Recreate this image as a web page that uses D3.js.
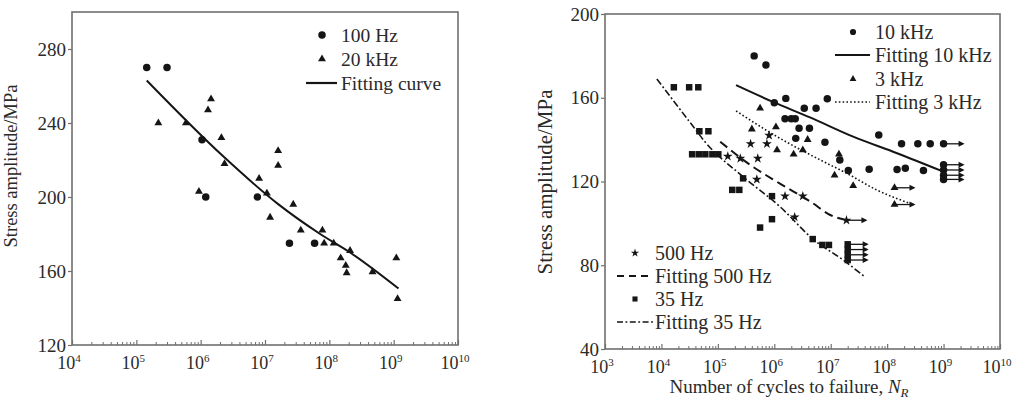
<!DOCTYPE html>
<html><head><meta charset="utf-8">
<script src="https://cdn.jsdelivr.net/npm/d3@7"></script>
<style>body{margin:0;background:#fff}svg{display:block;font-family:"Liberation Serif","Times New Roman",serif}</style>
</head><body><svg id="c" width="1020" height="404"></svg>
<script>
// ---------- data ----------
const leftXExps = [4, 5, 6, 7, 8, 9, 10];
const leftYTicks = [120, 160, 200, 240, 280];
const rightXExps = [3, 4, 5, 6, 7, 8, 9, 10];
const rightYTicks = [40, 80, 120, 160, 200];
const yTitle = "Stress amplitude/MPa";
const xTitle = "Number of cycles to failure, ";

// left panel
const left100Hz = [[1.45e5,270],[3.0e5,270],[1.05e6,231],[1.2e6,200],[7.6e6,200],[2.4e7,175],[5.9e7,175]];
const left20kHz = [[2.2e5,240],[5.9e5,240],[1.3e6,247],[1.45e6,253],[2.1e6,232],[2.35e6,218],[9.4e5,203],
  [8.1e6,210],[1.07e7,202],[1.2e7,189],[1.6e7,225],[1.6e7,217],[2.75e7,196],[3.6e7,182],[7.8e7,182],
  [8.3e7,175],[1.17e8,175],[1.5e8,167],[1.8e8,163],[1.86e8,159],[2.1e8,171],[4.7e8,159.5],[1.1e9,167],[1.15e9,145]];
const leftFit = [[1.45e5,263],[2.24e6,222],[1.62e7,196],[7.2e7,180],[2.1e8,170],[1.19e9,150.5]];
const leftLegend = ["100 Hz", "20 kHz", "Fitting curve"];

// right panel
const r10kHz = [[4.4e5,180],[7.1e5,175.6],[1.0e6,157.6],[1.6e6,159.7],[3.4e6,155],[5.5e6,155],[8.7e6,159.5],
  [1.55e6,150],[2.0e6,150],[2.35e6,150],[2.75e6,145.4],[4.2e6,145.4],[2.4e6,140.6],[7.9e6,138.7],
  [1.45e7,130.3],[2.05e7,125.3],[4.8e7,125.8],[7.1e7,142.2],[1.5e8,125.7],[2.1e8,126.3],[4.4e8,125.2],
  [1.8e8,138],[3.5e8,138],[5.8e8,138]];
const r10kHzRunout = [[1e9,138],[1e9,128],[1e9,125.5],[1e9,123],[1e9,121]];
const r3kHz = [[4.0e5,145],[5.6e5,155],[1.07e6,146],[1.12e6,135],[2.2e6,133],[3.2e6,135],[3.9e6,140],
  [1.17e7,123],[1.4e7,133],[2.5e7,118]];
const r3kHzRunout = [[1.35e8,117],[1.35e8,109]];
const r500Hz = [[1.5e5,132],[2.5e5,131],[3.8e5,138],[5.1e5,131],[7.4e5,138],[8.1e5,142],[4.9e5,121],
  [1.55e6,113],[2.3e6,103],[3.2e6,113]];
const r500HzRunout = [[1.9e7,101.5]];
const r35Hz = [[1.66e4,165],[3.1e4,165],[4.5e4,165],[4.7e4,144],[6.8e4,144],[3.5e4,133],[4.6e4,133],
  [6.0e4,133],[8.0e4,133],[1.02e5,133],[1.8e5,116],[2.4e5,116],[2.8e5,121.5],[9.1e5,113],[9.1e5,102],
  [5.6e5,98],[4.8e6,92.5],[7.1e6,89.7],[9.3e6,89.7]];
const r35HzRunout = [[2.0e7,90],[2.0e7,87.5],[2.0e7,85],[2.0e7,82.5]];
const fit10kHz = [[2.1e5,166],[9.5e5,158],[4.3e6,150.6],[2.5e7,141.4],[1.5e8,133.5],[9.3e8,125]];
const fit3kHz = [[2.1e5,153.7],[8.9e5,143],[6.5e6,130.3],[1.9e7,124],[6.5e7,116],[2.9e8,109]];
const fit500Hz = [[1.1e5,139],[3.7e5,128],[1.26e6,119],[4.6e6,110],[9.8e6,104],[1.9e7,101.5]];
const fit35Hz = [[8.3e3,169],[3.6e4,146.5],[5.9e4,139],[2.8e5,122.3],[1.26e6,108],[4.9e6,92.4],[1.66e7,82.5],[4.1e7,74.3]];
const rightLegendTop = ["10 kHz", "Fitting 10 kHz", "3 kHz", "Fitting 3 kHz"];
const rightLegendBottom = ["500 Hz", "Fitting 500 Hz", "35 Hz", "Fitting 35 Hz"];

// ---------- drawing ----------
const svg = d3.select("#c");
const INK = "#151515", AX = "#707070", TXT = "#2a2a2a";

const xL = d3.scaleLog().domain([1e4, 1e10]).range([72, 458]);
const yL = d3.scaleLinear().domain([120, 300]).range([345, 12]);
const xR = d3.scaleLog().domain([1e3, 1e10]).range([605, 1000]);
const yR = d3.scaleLinear().domain([40, 200]).range([349, 14]);

const sym = {
  circle: d3.symbol().type(d3.symbolCircle).size(44),
  tri: d3.symbol().type(d3.symbolTriangle).size(27),
  square: d3.symbol().type(d3.symbolSquare).size(42),
  star: d3.symbol().type(d3.symbolStar).size(30)
};

function frame(x, y, exps, yticks, yFont) {
  const g = svg.append("g");
  const [x0, x1] = x.range(), [y0, y1] = y.range();
  const minors = [];
  exps.slice(0, -1).forEach(e => { for (let k = 2; k <= 9; k++) minors.push(k * Math.pow(10, e)); });
  g.append("g").attr("transform", `translate(0,${y0})`)
    .call(d3.axisBottom(x).tickValues(minors).tickSize(-3).tickFormat(""))
    .call(a => { a.select(".domain").remove(); a.selectAll("line").attr("stroke", AX).attr("stroke-width", 1); });
  g.append("g").attr("transform", `translate(0,${y0})`)
    .call(d3.axisBottom(x).tickValues(exps.map(e => Math.pow(10, e))).tickSize(-5).tickFormat(""))
    .call(a => { a.select(".domain").remove(); a.selectAll("line").attr("stroke", AX).attr("stroke-width", 1.2); });
  g.append("g").attr("transform", `translate(${x0},0)`)
    .call(d3.axisLeft(y).tickValues(yticks).tickSize(4).tickPadding(2))
    .call(a => {
      a.select(".domain").remove();
      a.selectAll("line").attr("stroke", AX).attr("stroke-width", 1.2);
      a.selectAll("text").attr("font-size", yFont).attr("fill", TXT).attr("font-family", "Liberation Serif");
    });
  g.append("rect").attr("x", x0).attr("y", y1).attr("width", x1 - x0).attr("height", y0 - y1)
    .attr("fill", "none").attr("stroke", AX).attr("stroke-width", 1.6);
  exps.forEach(e => {
    const t = g.append("text").attr("x", x(Math.pow(10, e)) - 3).attr("y", y0 + 24)
      .attr("text-anchor", "middle").attr("font-size", 18).attr("fill", TXT);
    t.append("tspan").text("10");
    t.append("tspan").attr("dy", -7).attr("font-size", 11).text(e);
  });
}

function points(x, y, data, s) {
  svg.append("g").selectAll("path").data(data).join("path")
    .attr("d", s).attr("fill", INK)
    .attr("transform", d => `translate(${x(d[0])},${y(d[1])})`);
}
function runouts(x, y, data, s) {
  points(x, y, data, s);
  const g = svg.append("g");
  data.forEach(d => {
    const px = x(d[0]), py = y(d[1]);
    g.append("line").attr("x1", px).attr("x2", px + 19).attr("y1", py).attr("y2", py)
      .attr("stroke", INK).attr("stroke-width", 1.3);
    g.append("path").attr("d", `M${px + 21},${py}L${px + 15},${py - 3}L${px + 15},${py + 3}Z`).attr("fill", INK);
  });
}
function fit(x, y, data, dash, w) {
  svg.append("path").datum(data)
    .attr("d", d3.line().x(d => x(d[0])).y(d => y(d[1])).curve(d3.curveMonotoneX))
    .attr("fill", "none").attr("stroke", INK).attr("stroke-width", w)
    .attr("stroke-dasharray", dash);
}
function legendRow(lx, ly, label, kind, fs) {
  const g = svg.append("g");
  if (kind.sym) g.append("path").attr("d", kind.sym).attr("fill", INK).attr("transform", `translate(${kind.sx},${ly})`);
  if (kind.line) g.append("line").attr("x1", kind.line[0]).attr("x2", kind.line[1]).attr("y1", ly).attr("y2", ly)
    .attr("stroke", INK).attr("stroke-width", kind.w).attr("stroke-dasharray", kind.dash);
  g.append("text").attr("x", lx).attr("y", ly).attr("dy", "0.34em").attr("font-size", fs).attr("fill", TXT).text(label);
}

// ---- left panel ----
frame(xL, yL, leftXExps, leftYTicks, 19);
fit(xL, yL, leftFit, null, 2);
points(xL, yL, left100Hz, sym.circle);
points(xL, yL, left20kHz, sym.tri);
legendRow(341, 35, leftLegend[0], {sym: sym.circle, sx: 322}, 19.5);
legendRow(341, 59, leftLegend[1], {sym: sym.tri, sx: 322}, 19.5);
legendRow(341, 83, leftLegend[2], {line: [306, 337], w: 2.2}, 19.5);
svg.append("text").attr("transform", "translate(17,166) rotate(-90)").attr("text-anchor", "middle")
  .attr("font-size", 18.5).attr("fill", TXT).text(yTitle);

// ---- right panel ----
frame(xR, yR, rightXExps, rightYTicks, 19);
fit(xR, yR, fit10kHz, null, 2);
fit(xR, yR, fit3kHz, "1.6,2.2", 1.6);
fit(xR, yR, fit500Hz, "9,5", 2);
fit(xR, yR, fit35Hz, "7,2.5,1.8,2.5", 1.6);
points(xR, yR, r10kHz, sym.circle);
runouts(xR, yR, r10kHzRunout, sym.circle);
points(xR, yR, r3kHz, sym.tri);
runouts(xR, yR, r3kHzRunout, sym.tri);
points(xR, yR, r500Hz, sym.star);
runouts(xR, yR, r500HzRunout, sym.star);
points(xR, yR, r35Hz, sym.square);
runouts(xR, yR, r35HzRunout, sym.square);

legendRow(875, 32, rightLegendTop[0], {sym: d3.symbol().type(d3.symbolCircle).size(30)(), sx: 853}, 20);
legendRow(875, 55, rightLegendTop[1], {line: [835, 870], w: 2}, 20);
legendRow(875, 79, rightLegendTop[2], {sym: d3.symbol().type(d3.symbolTriangle).size(20)(), sx: 853}, 20);
legendRow(875, 102, rightLegendTop[3], {line: [835, 870], w: 1.6, dash: "1.6,2.2"}, 20);
legendRow(655, 253, rightLegendBottom[0], {sym: d3.symbol().type(d3.symbolStar).size(22)(), sx: 635}, 20);
legendRow(655, 276, rightLegendBottom[1], {line: [617, 653], w: 2, dash: "7,5"}, 20);
legendRow(655, 299, rightLegendBottom[2], {sym: d3.symbol().type(d3.symbolSquare).size(26)(), sx: 635}, 20);
legendRow(655, 322, rightLegendBottom[3], {line: [617, 653], w: 1.6, dash: "6,2.5,1.8,2.5"}, 20);

svg.append("text").attr("transform", "translate(552,182) rotate(-90)").attr("text-anchor", "middle")
  .attr("font-size", 21).attr("fill", TXT).text(yTitle);
const xt = svg.append("text").attr("x", 789).attr("y", 393).attr("text-anchor", "middle")
  .attr("font-size", 19).attr("fill", TXT);
xt.append("tspan").text(xTitle);
xt.append("tspan").attr("font-style", "italic").text("N");
xt.append("tspan").attr("font-style", "italic").attr("font-size", 13).attr("dy", 4).text("R");
</script></body></html>
